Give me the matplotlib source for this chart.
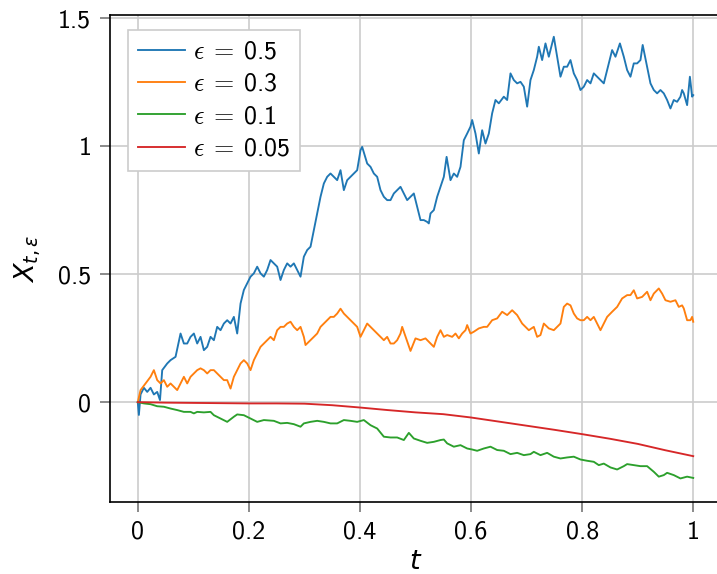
import matplotlib
matplotlib.use("Agg")
import matplotlib.pyplot as plt
from matplotlib.font_manager import FontProperties

# values (t, X) for each epsilon
t_05 = [0.000, 0.002, 0.005, 0.011, 0.017, 0.023, 0.029, 0.035, 0.040, 0.044,
        0.053, 0.059, 0.068, 0.077, 0.083, 0.089, 0.095, 0.101, 0.107, 0.113,
        0.119, 0.125, 0.131, 0.137, 0.143, 0.149, 0.155, 0.161, 0.167, 0.173,
        0.179, 0.185, 0.191, 0.197, 0.203, 0.209, 0.215, 0.221, 0.227, 0.233,
        0.239, 0.245, 0.251, 0.257, 0.263, 0.269, 0.275, 0.281, 0.287, 0.293,
        0.299, 0.305, 0.311, 0.317, 0.323, 0.329, 0.335, 0.341, 0.347, 0.353,
        0.359, 0.365, 0.371, 0.377, 0.383, 0.389, 0.395, 0.401, 0.404, 0.413,
        0.419, 0.425, 0.431, 0.437, 0.443, 0.449, 0.455, 0.461, 0.467, 0.473,
        0.479, 0.485, 0.491, 0.497, 0.503, 0.509, 0.515, 0.521, 0.524, 0.527,
        0.533, 0.539, 0.545, 0.551, 0.556, 0.560, 0.563, 0.569, 0.575, 0.581,
        0.587, 0.593, 0.599, 0.602, 0.608, 0.614, 0.620, 0.626, 0.632, 0.638,
        0.644, 0.650, 0.659, 0.665, 0.671, 0.677, 0.683, 0.689, 0.695, 0.701,
        0.707, 0.713, 0.719, 0.722, 0.728, 0.734, 0.740, 0.749, 0.755, 0.761,
        0.767, 0.773, 0.779, 0.785, 0.791, 0.797, 0.803, 0.809, 0.815, 0.821,
        0.827, 0.833, 0.839, 0.845, 0.851, 0.854, 0.860, 0.868, 0.875, 0.881,
        0.887, 0.893, 0.899, 0.905, 0.909, 0.917, 0.923, 0.929, 0.935, 0.941,
        0.947, 0.953, 0.959, 0.965, 0.971, 0.977, 0.980, 0.983, 0.989, 0.994,
        0.998, 1.000]
x_05 = [0.000, -0.050, 0.030, 0.056, 0.040, 0.056, 0.030, 0.040, 0.008, 0.125,
        0.151, 0.164, 0.177, 0.268, 0.229, 0.229, 0.255, 0.268, 0.229, 0.255,
        0.203, 0.216, 0.255, 0.242, 0.294, 0.281, 0.307, 0.320, 0.307, 0.333,
        0.268, 0.385, 0.438, 0.464, 0.490, 0.503, 0.529, 0.503, 0.490, 0.516,
        0.555, 0.542, 0.529, 0.477, 0.516, 0.542, 0.529, 0.542, 0.516, 0.490,
        0.568, 0.594, 0.607, 0.672, 0.737, 0.802, 0.854, 0.880, 0.893, 0.880,
        0.867, 0.906, 0.828, 0.867, 0.880, 0.893, 0.906, 0.984, 0.997, 0.932,
        0.919, 0.893, 0.880, 0.828, 0.802, 0.789, 0.789, 0.815, 0.828, 0.841,
        0.815, 0.789, 0.802, 0.815, 0.763, 0.711, 0.711, 0.704, 0.698, 0.737,
        0.750, 0.802, 0.841, 0.880, 0.958, 0.906, 0.867, 0.893, 0.880, 0.919,
        1.023, 1.049, 1.076, 1.102, 1.049, 0.971, 1.062, 1.010, 1.049, 1.128,
        1.180, 1.167, 1.193, 1.180, 1.284, 1.258, 1.245, 1.251, 1.232, 1.154,
        1.258, 1.297, 1.349, 1.388, 1.336, 1.401, 1.349, 1.427, 1.349, 1.271,
        1.310, 1.310, 1.336, 1.284, 1.258, 1.219, 1.232, 1.258, 1.245, 1.284,
        1.271, 1.258, 1.245, 1.297, 1.349, 1.375, 1.349, 1.401, 1.349, 1.297,
        1.271, 1.323, 1.323, 1.336, 1.395, 1.310, 1.245, 1.219, 1.206, 1.219,
        1.206, 1.180, 1.147, 1.180, 1.173, 1.193, 1.219, 1.206, 1.160, 1.271,
        1.193, 1.199]

t_03 = [0.000, 0.005, 0.014, 0.023, 0.029, 0.035, 0.041, 0.047, 0.053, 0.059,
        0.065, 0.071, 0.077, 0.083, 0.089, 0.095, 0.101, 0.107, 0.113, 0.119,
        0.125, 0.131, 0.137, 0.143, 0.149, 0.155, 0.161, 0.167, 0.173, 0.179,
        0.185, 0.191, 0.197, 0.203, 0.209, 0.215, 0.221, 0.227, 0.233, 0.239,
        0.245, 0.251, 0.257, 0.263, 0.269, 0.275, 0.281, 0.287, 0.293, 0.299,
        0.302, 0.311, 0.317, 0.323, 0.329, 0.335, 0.341, 0.347, 0.353, 0.359,
        0.365, 0.371, 0.377, 0.383, 0.389, 0.395, 0.401, 0.407, 0.413, 0.419,
        0.425, 0.431, 0.437, 0.443, 0.449, 0.455, 0.461, 0.467, 0.473, 0.476,
        0.491, 0.500, 0.509, 0.518, 0.527, 0.533, 0.539, 0.545, 0.551, 0.557,
        0.566, 0.572, 0.578, 0.584, 0.590, 0.593, 0.599, 0.605, 0.614, 0.623,
        0.629, 0.638, 0.647, 0.656, 0.665, 0.674, 0.683, 0.692, 0.698, 0.704,
        0.713, 0.719, 0.725, 0.731, 0.740, 0.749, 0.755, 0.761, 0.767, 0.773,
        0.779, 0.785, 0.791, 0.797, 0.803, 0.809, 0.815, 0.821, 0.827, 0.833,
        0.839, 0.845, 0.854, 0.863, 0.872, 0.881, 0.887, 0.893, 0.899, 0.908,
        0.917, 0.923, 0.929, 0.938, 0.944, 0.950, 0.959, 0.968, 0.974, 0.980,
        0.983, 0.989, 0.995, 0.998, 1.000]
x_03 = [0.000, 0.047, 0.073, 0.099, 0.125, 0.086, 0.073, 0.086, 0.060, 0.073,
        0.060, 0.047, 0.073, 0.099, 0.073, 0.099, 0.112, 0.125, 0.132, 0.125,
        0.112, 0.125, 0.125, 0.112, 0.099, 0.086, 0.086, 0.053, 0.099, 0.125,
        0.151, 0.164, 0.151, 0.125, 0.164, 0.190, 0.216, 0.229, 0.242, 0.255,
        0.242, 0.281, 0.294, 0.294, 0.307, 0.314, 0.294, 0.281, 0.294, 0.255,
        0.223, 0.242, 0.255, 0.268, 0.294, 0.307, 0.320, 0.333, 0.333, 0.346,
        0.365, 0.346, 0.333, 0.320, 0.307, 0.294, 0.255, 0.281, 0.307, 0.294,
        0.281, 0.268, 0.255, 0.242, 0.255, 0.229, 0.229, 0.242, 0.268, 0.294,
        0.200, 0.249, 0.242, 0.249, 0.229, 0.216, 0.255, 0.281, 0.255, 0.262,
        0.255, 0.268, 0.249, 0.268, 0.281, 0.301, 0.268, 0.275, 0.288, 0.294,
        0.294, 0.320, 0.327, 0.353, 0.340, 0.359, 0.340, 0.307, 0.294, 0.281,
        0.294, 0.255, 0.262, 0.307, 0.288, 0.281, 0.294, 0.307, 0.372, 0.385,
        0.378, 0.346, 0.327, 0.320, 0.320, 0.333, 0.320, 0.333, 0.307, 0.281,
        0.307, 0.333, 0.353, 0.372, 0.405, 0.418, 0.418, 0.437, 0.405, 0.411,
        0.431, 0.398, 0.424, 0.444, 0.424, 0.398, 0.392, 0.398, 0.372, 0.378,
        0.366, 0.320, 0.320, 0.333, 0.314]

t_01 = [0.000, 0.011, 0.023, 0.035, 0.047, 0.059, 0.071, 0.083, 0.095, 0.101,
        0.107, 0.119, 0.131, 0.137, 0.149, 0.161, 0.173, 0.179, 0.191, 0.203,
        0.215, 0.227, 0.245, 0.257, 0.269, 0.281, 0.293, 0.299, 0.311, 0.323,
        0.335, 0.347, 0.359, 0.371, 0.383, 0.395, 0.407, 0.419, 0.431, 0.443,
        0.455, 0.467, 0.479, 0.488, 0.497, 0.509, 0.521, 0.533, 0.545, 0.551,
        0.557, 0.569, 0.581, 0.593, 0.602, 0.611, 0.623, 0.635, 0.647, 0.659,
        0.671, 0.683, 0.695, 0.707, 0.713, 0.725, 0.737, 0.749, 0.761, 0.773,
        0.785, 0.797, 0.809, 0.821, 0.830, 0.839, 0.851, 0.863, 0.875, 0.881,
        0.893, 0.905, 0.917, 0.929, 0.938, 0.947, 0.953, 0.965, 0.977, 0.989,
        1.000]
x_01 = [0.000, -0.005, -0.008, -0.016, -0.018, -0.025, -0.031, -0.038, -0.038, -0.044,
        -0.038, -0.040, -0.038, -0.051, -0.064, -0.077, -0.057, -0.048, -0.051, -0.064,
        -0.077, -0.070, -0.073, -0.083, -0.081, -0.086, -0.096, -0.083, -0.077, -0.073,
        -0.077, -0.083, -0.083, -0.070, -0.073, -0.077, -0.070, -0.090, -0.103, -0.135,
        -0.138, -0.138, -0.148, -0.120, -0.142, -0.151, -0.159, -0.155, -0.148, -0.146,
        -0.161, -0.174, -0.168, -0.181, -0.185, -0.190, -0.181, -0.174, -0.187, -0.190,
        -0.203, -0.198, -0.207, -0.203, -0.194, -0.207, -0.198, -0.213, -0.220, -0.216,
        -0.213, -0.224, -0.229, -0.233, -0.246, -0.240, -0.255, -0.263, -0.250, -0.242,
        -0.246, -0.250, -0.250, -0.272, -0.291, -0.285, -0.276, -0.285, -0.298, -0.291,
        -0.296]

t_005 = [0.00, 0.05, 0.10, 0.15, 0.20, 0.25, 0.30, 0.35, 0.40, 0.45, 0.50,
         0.55, 0.60, 0.65, 0.70, 0.75, 0.80, 0.85, 0.90, 0.95, 1.00]
x_005 = [0.000, -0.002, -0.003, -0.004, -0.005, -0.005, -0.006, -0.012, -0.021, -0.031, -0.040,
         -0.047, -0.060, -0.076, -0.092, -0.108, -0.125, -0.143, -0.163, -0.188, -0.211]

series = [(t_05, x_05, "0.5"), (t_03, x_03, "0.3"), (t_01, x_01, "0.1"), (t_005, x_005, "0.05")]
xticks = [0, 0.2, 0.4, 0.6, 0.8, 1]
xtick_labels = ["0", "0.2", "0.4", "0.6", "0.8", "1"]
yticks = [0, 0.5, 1, 1.5]
ytick_labels = ["0", "0.5", "1", "1.5"]

plt.rcParams["font.family"] = ["cmss10", "DejaVu Sans"]
plt.rcParams["axes.unicode_minus"] = False

fig = plt.figure(figsize=(717 / 150, 574 / 150), dpi=150)
ax = fig.add_axes([110 / 717, 72 / 574, 611 / 717, 487 / 574])

for t, x, eps in series:
    ax.plot(t, x, lw=0.9, label=r"$\epsilon \:=\:$" + eps)

ax.set_xlim(-0.05, 1.05)
ax.set_ylim(-0.39, 1.512)
ax.set_xticks(xticks, xtick_labels)
ax.set_yticks(yticks, ytick_labels)
ax.tick_params(labelsize=12.5, length=5, width=0.8, color="#777777", pad=4)
ax.grid(True, color="#cccccc", lw=0.8)
for s in ax.spines.values():
    s.set_linewidth(0.8)

ax.set_xlabel(r"$t$", fontsize=13, math_fontfamily="dejavusans", labelpad=2.5)
ax.set_ylabel(r"$X_{t,\varepsilon}$", fontsize=13, math_fontfamily="dejavusans", labelpad=7)

leg_font = FontProperties(family=["cmss10", "DejaVu Sans"], size=12.5, math_fontfamily="cm")
leg = ax.legend(loc="upper left", bbox_to_anchor=(18 / 611, 1 - 15 / 487), borderaxespad=0,
                prop=leg_font, fancybox=False, framealpha=1, edgecolor="#cccccc",
                handlelength=1.8, handletextpad=0.3, labelspacing=0.35)
leg.get_frame().set_linewidth(0.8)

fig.savefig("out.png", dpi=150)
